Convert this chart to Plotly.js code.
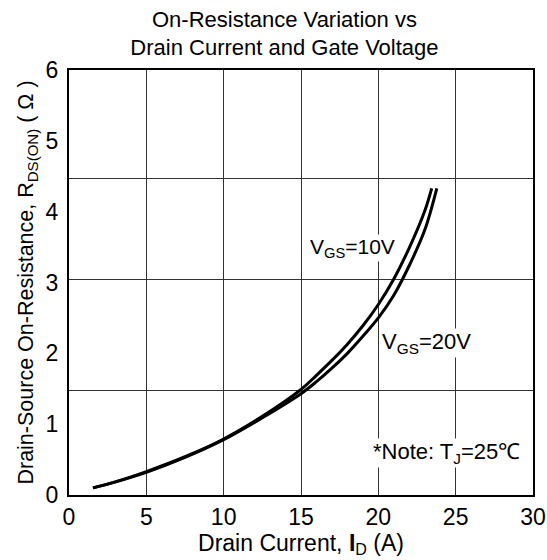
<!DOCTYPE html>
<html>
<head>
<meta charset="utf-8">
<script src="https://cdn.plot.ly/plotly-3.0.1.min.js"></script>
<style>html,body{margin:0;padding:0;background:#fff}</style>
</head>
<body>
<div id="chart" style="width:547px;height:560px"></div>
<script>
// Drain current (A) and on-resistance (Ohm) for VGS = 10 V
const id10 = [1.55, 3, 5, 7.5, 10, 12.5, 15, 16, 17, 18, 19, 20, 21, 22, 23, 23.45];
const r10  = [0.10, 0.185, 0.33, 0.54, 0.79, 1.11, 1.49, 1.69, 1.90, 2.13, 2.39, 2.69, 3.05, 3.49, 4.01, 4.33];
// VGS = 20 V
const id20 = [1.55, 3, 5, 7.5, 10, 12.5, 15, 16, 17, 18, 19, 20, 21, 22, 23, 23.78];
const r20  = [0.10, 0.185, 0.32, 0.53, 0.78, 1.09, 1.43, 1.60, 1.79, 2.00, 2.24, 2.50, 2.82, 3.24, 3.74, 4.33];
const xTicks = [0, 5, 10, 15, 20, 25, 30];
const yTicks = [0, 1, 2, 3, 4, 5, 6];
const yGrid = [1.48, 3.04, 4.47];

const FONT = 'Liberation Sans, Arial, sans-serif';
const traces = [
  {x: id10, y: r10, mode: 'lines', line: {color: '#000', width: 3, shape: 'spline', smoothing: 1}, hoverinfo: 'skip'},
  {x: id20, y: r20, mode: 'lines', line: {color: '#000', width: 3, shape: 'spline', smoothing: 1}, hoverinfo: 'skip'}
];
const layout = {
  width: 547, height: 560,
  margin: {l: 69, r: 14, t: 70, b: 65},
  paper_bgcolor: '#fff', plot_bgcolor: '#fff',
  showlegend: false,
  font: {family: FONT, color: '#000', size: 22},
  title: {
    text: 'On-Resistance Variation vs<br>Drain Current and Gate Voltage',
    font: {family: FONT, size: 22, color: '#000'},
    x: 0.52, xanchor: 'center', xref: 'container',
    y: 0.952, yanchor: 'top', yref: 'container'
  },
  xaxis: {
    range: [0, 30], tickvals: xTicks, ticktext: xTicks.map(String),
    showgrid: true, gridcolor: '#333', gridwidth: 1,
    showline: true, linecolor: '#000', linewidth: 2, mirror: true,
    ticks: '', zeroline: false, fixedrange: true,
    tickfont: {family: FONT, size: 23},
    title: {text: 'Drain Current, <b>I</b><sub>D</sub> (A)', font: {family: FONT, size: 23}, standoff: 2}
  },
  yaxis: {
    range: [0, 6], tickvals: yTicks, ticktext: yTicks.map(String),
    showgrid: false,
    minor: {tickvals: yGrid, showgrid: true, gridcolor: '#333', gridwidth: 1, ticks: ''},
    showline: true, linecolor: '#000', linewidth: 2, mirror: true,
    ticks: '', zeroline: false, fixedrange: true,
    ticklabelstandoff: 4,
    tickfont: {family: FONT, size: 23},
    title: {text: 'Drain-Source On-Resistance, R<sub>DS(ON)</sub> ( Ω )', font: {family: FONT, size: 21.5}, standoff: 6}
  },
  annotations: [
    {x: 18.3, y: 3.49, xref: 'x', yref: 'y', text: 'V<sub>GS</sub>=10V', showarrow: false,
     font: {family: FONT, size: 21, color: '#000'}, bgcolor: '#fff', borderpad: 0},
    {x: 23.1, y: 2.14, xref: 'x', yref: 'y', text: 'V<sub>GS</sub>=20V', showarrow: false,
     font: {family: FONT, size: 22, color: '#000'}, bgcolor: '#fff', borderpad: 0},
    {x: 24.4, y: 0.6, xref: 'x', yref: 'y', text: '*Note: T<sub>J</sub>=25℃', showarrow: false,
     font: {family: FONT, size: 22, color: '#000'}, bgcolor: '#fff', borderpad: 0}
  ]
};
Plotly.newPlot('chart', traces, layout, {staticPlot: true, displayModeBar: false});
</script>
</body>
</html>
